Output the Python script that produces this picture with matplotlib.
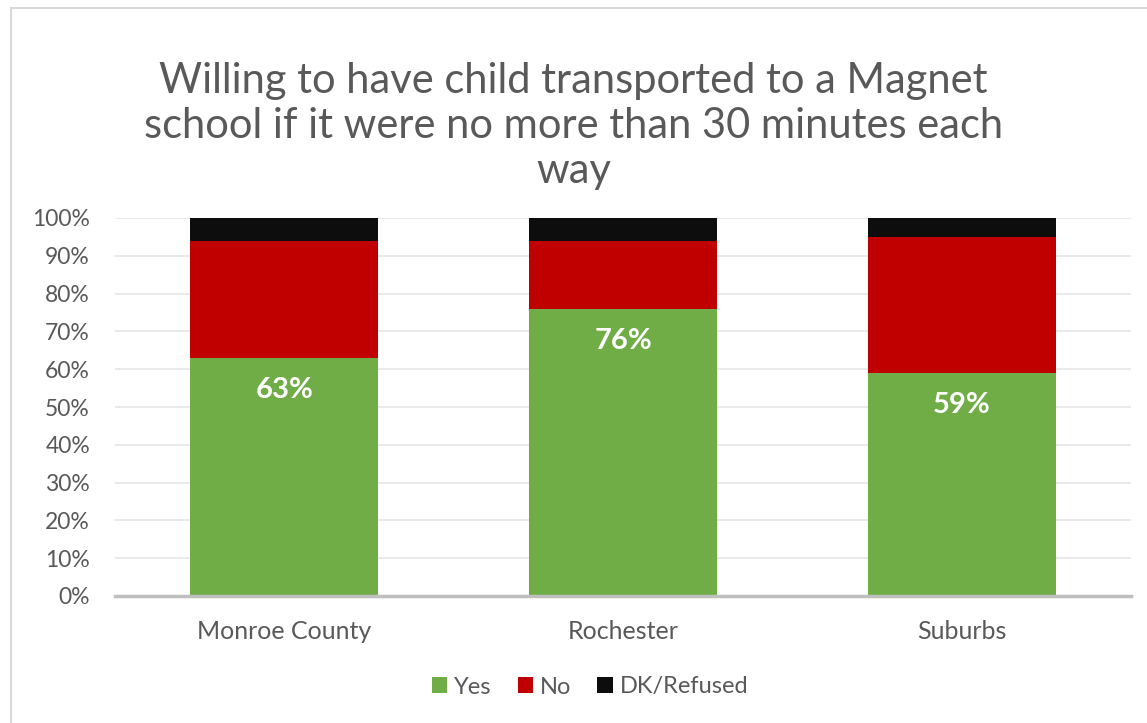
"""Stacked bar chart: willingness to have child transported to a Magnet school."""

import matplotlib.pyplot as plt
from matplotlib.patches import Rectangle
import numpy as np

# ---------------------------------------------------------------------------
# Data
# ---------------------------------------------------------------------------
regions = ["Monroe County", "Rochester", "Suburbs"]
yes_pct = [63, 76, 59]
no_pct = [31, 18, 36]
dk_pct = [6, 6, 5]
y_ticks = [0, 10, 20, 30, 40, 50, 60, 70, 80, 90, 100]

title = ("Willing to have child transported to a Magnet\n"
         "school if it were no more than 30 minutes each\n"
         "way")

GREEN = "#70ad47"
RED = "#c00000"
BLACK = "#0d0d0d"
TEXT = "#595959"

plt.rcParams["font.family"] = ["Lato", "DejaVu Sans"]

fig = plt.figure(figsize=(11.47, 7.23), dpi=100)
W, H = 1147, 723

# chart frame
fig.patches.append(Rectangle((11 / W, -0.01), 1.2, 1 - 8 / H + 0.01,
                             transform=fig.transFigure, fill=False,
                             edgecolor="#d9d9d9", linewidth=1.5))

ax = fig.add_axes([115 / W, 1 - 596 / H, (1131 - 115) / W, (596 - 218) / H])

x = np.arange(len(regions))
width = 0.555
yes = np.array(yes_pct)
no = np.array(no_pct)
dk = np.array(dk_pct)

ax.bar(x, yes, width, color=GREEN, label="Yes", zorder=3)
ax.bar(x, no, width, bottom=yes, color=RED, label="No", zorder=3)
ax.bar(x, dk, width, bottom=yes + no, color=BLACK, label="DK/Refused", zorder=3)

for xi, v in zip(x, yes):
    ax.text(xi, v - 8.5, f"{v}%", ha="center", va="center", color="white",
            fontsize=21, fontweight="bold", zorder=4)

ax.set_xlim(-0.5, len(regions) - 0.5)
ax.set_ylim(0, 100)
ax.set_yticks(y_ticks)
ax.set_yticklabels([f"{t}%" for t in y_ticks])
ax.set_xticks(x)
ax.set_xticklabels(regions)

ax.grid(axis="y", color="#e6e6e6", linewidth=1.2, zorder=0)
for side in ["top", "right", "left"]:
    ax.spines[side].set_visible(False)
ax.spines["bottom"].set_color("#bfbfbf")
ax.spines["bottom"].set_linewidth(2.5)
ax.spines["bottom"].set_zorder(5)

ax.tick_params(axis="y", length=0, labelsize=16.5, labelcolor=TEXT, pad=18)
ax.tick_params(axis="x", length=0, labelsize=18, labelcolor=TEXT, pad=17)

fig.text(0.5, 1 - 126 / H, title, ha="center", va="center", fontsize=30,
         color=TEXT, linespacing=1.22)

fig.legend(loc="center", bbox_to_anchor=(590 / W, 1 - 687 / H), ncol=3,
           frameon=False, fontsize=17, labelcolor=TEXT, handlelength=0.65,
           handleheight=0.65, handletextpad=0.3, columnspacing=1.1)

fig.savefig("out.png", dpi=100)
